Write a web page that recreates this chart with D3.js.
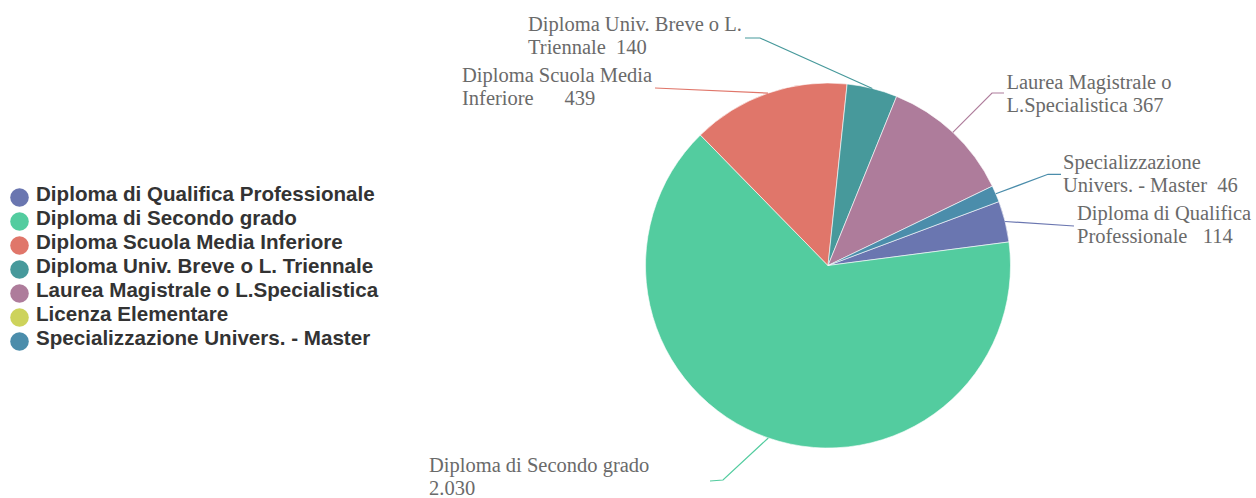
<!DOCTYPE html>
<html>
<head>
<meta charset="utf-8">
<script src="https://cdn.jsdelivr.net/npm/d3@7"></script>
<style>
  html, body { margin: 0; padding: 0; background: #fff; }
  svg { display: block; }
  .pie-label { white-space: pre; }
</style>
</head>
<body>
<svg id="chart" width="1256" height="498"></svg>
<script>
// Titolo di studio: categories, counts and slice colours
const categories = [
  "Diploma di Qualifica Professionale",
  "Diploma di Secondo grado",
  "Diploma Scuola Media Inferiore",
  "Diploma Univ. Breve o L. Triennale",
  "Laurea Magistrale o L.Specialistica",
  "Licenza Elementare",
  "Specializzazione Univers. - Master"
];
const values = [114, 2030, 439, 140, 367, 0, 46];
const colors = ["#6a76b0", "#53cc9f", "#e0766a", "#47999b", "#ae7c9b", "#cdd35b", "#4b8dab"];
// how many words of each name stay on the first label line
const firstLineWords = [3, 4, 3, 5, 3, 0, 1];

const W = 1256, H = 498;
const cx = 828, cy = 265.5, radius = 182.5;
const startAngle = 69.5 * Math.PI / 180;

const data = categories.map((name, i) => ({
  name, value: values[i], color: colors[i], split: firstLineWords[i]
}));

// Italian number format: 2030 -> "2.030"
const itFormat = d3.formatLocale({
  decimal: ",", thousands: ".", grouping: [3], currency: ["€", ""]
}).format(",d");

const svg = d3.select("#chart");

const pie = d3.pie()
  .sort(null)
  .value(d => d.value)
  .startAngle(startAngle)
  .endAngle(startAngle + 2 * Math.PI);
const arc = d3.arc().innerRadius(0).outerRadius(radius);
const arcs = pie(data);

// slices
const pieG = svg.append("g").attr("transform", `translate(${cx},${cy})`);
pieG.selectAll("path.slice")
  .data(arcs.filter(a => a.data.value > 0))
  .join("path")
  .attr("class", "slice")
  .attr("d", arc)
  .attr("fill", d => d.data.color)
  .attr("stroke", "#ffffff")
  .attr("stroke-width", 0.8)
  .attr("stroke-opacity", 0.75);

// outside labels: where each text block sits and how its leader line bends
const labelLayout = {
  "Diploma di Qualifica Professionale": { end: [1074, 226], textX: 1077, textY: 220, gap: 3 },
  "Diploma di Secondo grado":           { bend: [723, 480], end: [710, 481], textX: 429, textY: 471.5, gap: 0 },
  "Diploma Scuola Media Inferiore":     { end: [655, 88], textX: 462, textY: 82, gap: 6 },
  "Diploma Univ. Breve o L. Triennale": { bend: [760, 38], end: [745, 38], textX: 528, textY: 30.5, gap: 2 },
  "Laurea Magistrale o L.Specialistica":{ bend: [992, 93], end: [1004, 93], textX: 1006.5, textY: 88.5, gap: 1 },
  "Specializzazione Univers. - Master": { bend: [1048, 174.3], end: [1061, 174.3], textX: 1063, textY: 169, gap: 2 }
};
const lineGap = 23;

const labelG = svg.append("g");
arcs.filter(a => a.data.value > 0 && labelLayout[a.data.name]).forEach(a => {
  const cfg = labelLayout[a.data.name];
  const mid = (a.startAngle + a.endAngle) / 2;
  const p0 = [cx + radius * Math.sin(mid), cy - radius * Math.cos(mid)];
  const pts = cfg.bend ? [p0, cfg.bend, cfg.end] : [p0, cfg.end];

  labelG.append("path")
    .attr("d", d3.line()(pts))
    .attr("fill", "none")
    .attr("stroke", a.data.color)
    .attr("stroke-width", 1.2);

  const words = a.data.name.split(" ");
  const first = words.slice(0, a.data.split).join(" ");
  const rest = words.slice(a.data.split).join(" ");
  const valueText = itFormat(a.data.value);
  const lines = [first, rest ? rest + " ".repeat(Math.max(cfg.gap, 1)) + valueText : valueText];

  const t = labelG.append("text")
    .attr("class", "pie-label")
    .attr("font-family", "'Liberation Serif', 'Times New Roman', serif")
    .attr("font-size", 20.5)
    .attr("fill", "#6a6a6a");
  lines.forEach((ln, i) => {
    t.append("tspan")
      .attr("x", cfg.textX)
      .attr("y", cfg.textY + i * lineGap)
      .text(ln);
  });
});

// legend
const legendY = d3.scalePoint().domain(categories).range([201, 201 + 6 * 24]);
const rows = svg.append("g")
  .selectAll("g.legend-row")
  .data(data)
  .join("g")
  .attr("class", "legend-row")
  .attr("transform", d => `translate(0,${legendY(d.name)})`);
rows.append("circle")
  .attr("cx", 19.5)
  .attr("cy", -3.5)
  .attr("r", 9.3)
  .attr("fill", d => d.color);
rows.append("text")
  .attr("x", 36)
  .attr("y", 0)
  .attr("font-family", "'Liberation Sans', Arial, sans-serif")
  .attr("font-weight", "bold")
  .attr("font-size", 20.6)
  .attr("fill", "#333")
  .text(d => d.name);
</script>
</body>
</html>
